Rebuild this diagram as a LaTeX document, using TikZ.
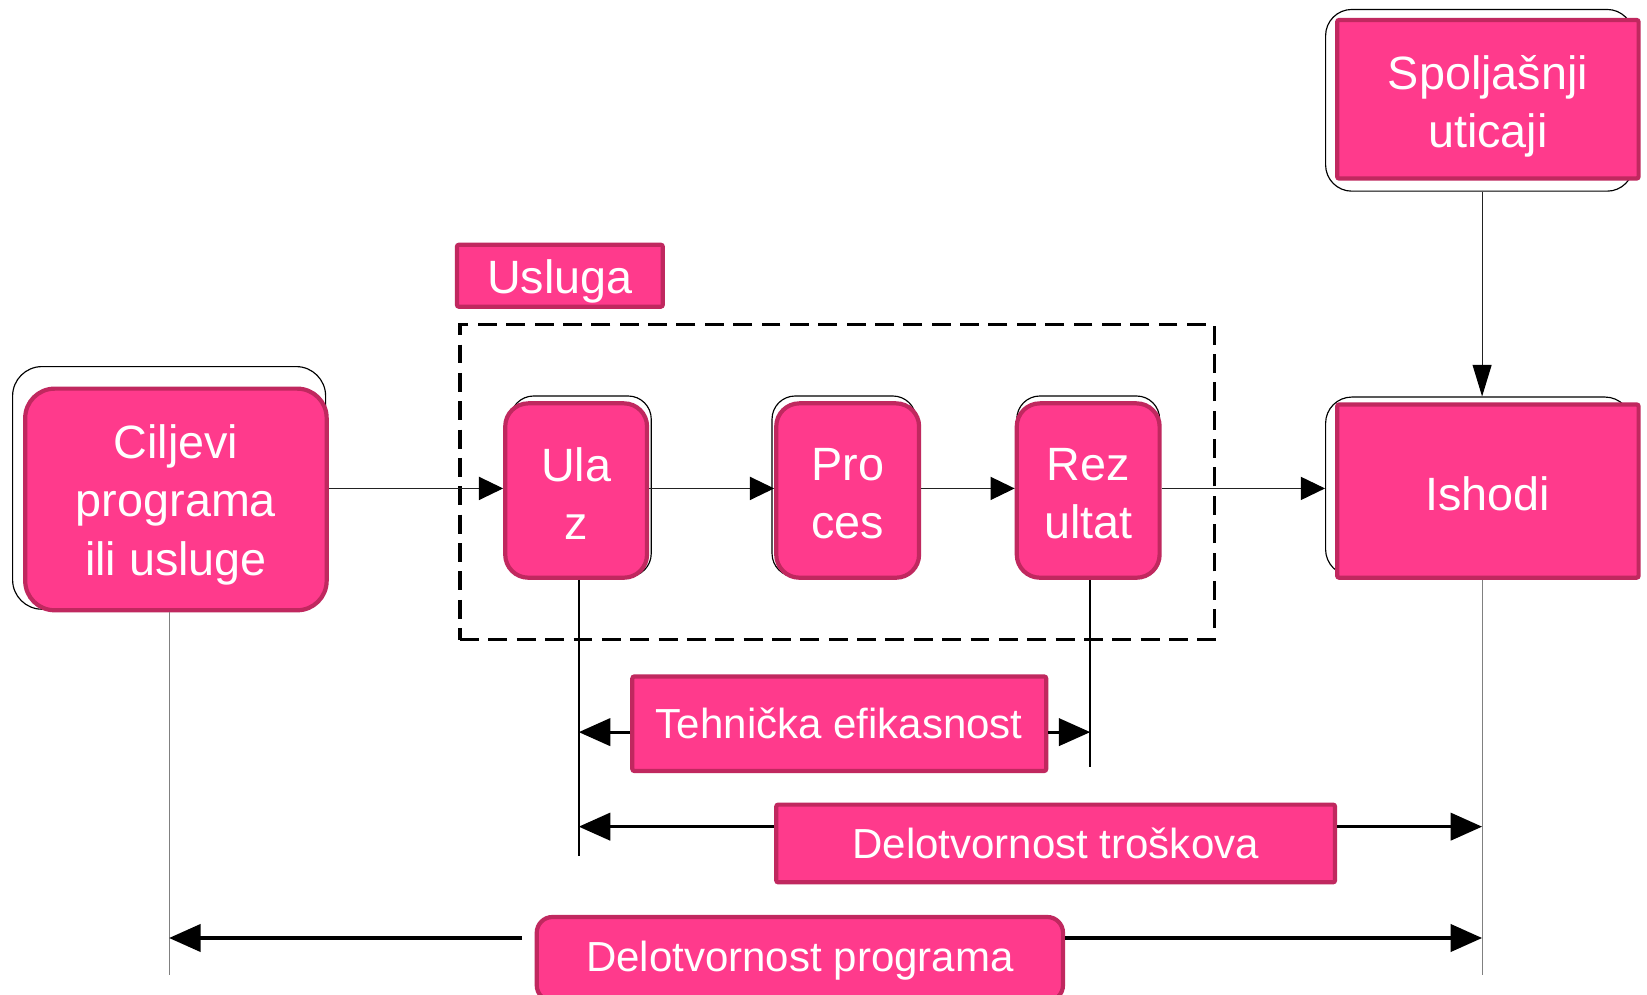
\documentclass[tikz,border=0pt]{standalone}
\usepackage{fontspec}
\setmainfont{Liberation Sans}
\usetikzlibrary{arrows.meta}
\definecolor{pinkfill}{HTML}{FF3A8C}
\definecolor{pinkdraw}{HTML}{C0285F}
\definecolor{thinline}{HTML}{222222}
\begin{document}
\begin{tikzpicture}[x=1pt,y=-1pt,
  pinkbox/.style={draw=pinkdraw, line width=4pt, fill=pinkfill, inner sep=0pt},
  bigtxt/.style={text=white, align=center, inner sep=0pt, font=\fontsize{44.5}{55.5}\selectfont},
  smalltxt/.style={text=white, align=center, inner sep=0pt, font=\fontsize{40}{48}\selectfont},
  ghost/.style={draw=black, line width=1.1pt, inner sep=0pt},
  thinarr/.style={draw=thinline, line width=1.1pt, -{Triangle[length=23pt,width=22pt,color=black]}},
  bigarr/.style={draw=black, line width=3pt, -{Triangle[length=30pt,width=26pt]}},
  thinvert/.style={draw=gray, line width=1.1pt},
  midvert/.style={draw=black, line width=2pt}]
\useasboundingbox (0,0) rectangle (1568,947);
\clip (0,0) rectangle (1568,947);
\fill[white] (0,0) rectangle (1568,947);

% outline shapes behind the boxes
\node[ghost, rounded corners=28pt, minimum width=298pt, minimum height=231pt] (ciljO) at (161,464.5) {};
\node[ghost, rounded corners=22pt, minimum width=134pt, minimum height=172pt] (ulaO) at (553,463) {};
\node[ghost, rounded corners=22pt, minimum width=137pt, minimum height=172pt] (proO) at (803.5,463) {};
\node[ghost, rounded corners=22pt, minimum width=136pt, minimum height=172pt] (rezO) at (1036,463) {};
\node[ghost, rounded corners=25pt, minimum width=291pt, minimum height=170pt] (ishO) at (1407.5,463) {};
\node[ghost, rounded corners=25pt, minimum width=293pt, minimum height=173pt] (spolO) at (1408.5,95.5) {};

% dashed service frame
\node[draw=black, line width=3pt, dash pattern=on 18pt off 9pt, inner sep=0pt,
  minimum width=718pt, minimum height=300pt] (svc) at (797,459) {};

% main boxes
\node[pinkbox, rounded corners=28pt, minimum width=287pt, minimum height=211pt] (cilj) at (167.5,475.5) {};
\node[pinkbox, rounded corners=22pt, minimum width=135pt, minimum height=166pt] (ula) at (548.5,467) {};
\node[pinkbox, rounded corners=22pt, minimum width=136pt, minimum height=166pt] (pro) at (807,467) {};
\node[pinkbox, rounded corners=22pt, minimum width=136pt, minimum height=166pt] (rez) at (1036,467) {};
\node[pinkbox, rounded corners=2pt, minimum width=287pt, minimum height=165pt] (ish) at (1416.5,467.5) {};
\node[pinkbox, rounded corners=2pt, minimum width=287pt, minimum height=151pt] (spol) at (1416.5,94.5) {};
\node[pinkbox, rounded corners=2pt, minimum width=196pt, minimum height=59pt] (usl) at (533,262.5) {};

% measure label boxes
\node[pinkbox, rounded corners=2pt, minimum width=394pt, minimum height=90pt] (teh) at (799,689) {};
\node[pinkbox, rounded corners=2pt, minimum width=532pt, minimum height=74pt] (tros) at (1005,803) {};
\node[pinkbox, rounded corners=15pt, minimum width=501pt, minimum height=80pt] (prog) at (761.5,913) {};

% texts
\node[bigtxt] (ciljT) at ([yshift=-5pt]cilj.center) {Ciljevi\\programa\\ili usluge};
\node[bigtxt] (ulaT) at ([yshift=-3pt]ula.center) {Ula\\z};
\node[bigtxt] (proT) at ([yshift=-3pt]pro.center) {Pro\\ces};
\node[bigtxt] (rezT) at ([yshift=-3pt]rez.center) {Rez\\ultat};
\node[bigtxt] (ishT) at ([yshift=-3pt]ish.center) {Ishodi};
\node[bigtxt] (spolT) at ([yshift=-7pt]spol.center) {Spoljašnji\\uticaji};
\node[bigtxt] (uslT) at ([yshift=-5pt]usl.center) {Usluga};
\node[smalltxt] (tehT) at ([yshift=0pt]teh.center) {Tehnička efikasnost};
\node[smalltxt] (trosT) at ([yshift=0pt]tros.center) {Delotvornost troškova};
\node[smalltxt] (progT) at ([yshift=-2pt]prog.center) {Delotvornost programa};

% helper coordinates
\coordinate (ya) at (0,465);
\coordinate (xi) at (1411,0);
\coordinate (cb) at (161,928);
\coordinate (ub) at (551,815);
\coordinate (rb) at (1038,730);
\coordinate (ib) at (1411,928);
\coordinate (tY) at (0,697);
\coordinate (dY) at (0,787);
\coordinate (pY) at (0,893);

% flow arrows
\draw[thinarr] (cilj.east |- ya) -- (ula.west |- ya);
\draw[thinarr] (ula.east |- ya) -- (pro.west |- ya);
\draw[thinarr] (pro.east |- ya) -- (rez.west |- ya);
\draw[thinarr] (rez.east |- ya) -- (ishO.west |- ya);
\draw[draw=thinline, line width=1.1pt, -{Triangle[length=30pt,width=18pt,color=black]}] (spolO.south -| xi) -- (ishO.north -| xi);

% vertical reference lines
\draw[thinvert] (cilj.south -| cb) -- (cb);
\draw[midvert] (ula.south -| ub) -- (ub);
\draw[midvert] (rez.south -| rb) -- (rb);
\draw[thinvert] (ish.south -| ib) -- (ib);

% measure arrows
\draw[bigarr] (teh.west |- tY) -- (ub |- tY);
\draw[bigarr] (teh.east |- tY) -- (rb |- tY);
\draw[bigarr] (tros.west |- dY) -- (ub |- dY);
\draw[bigarr] (tros.east |- dY) -- (ib |- dY);
\draw[bigarr] ([xshift=-12pt]prog.west |- pY) -- (cb |- pY);
\draw[bigarr] (prog.east |- pY) -- (ib |- pY);
\end{tikzpicture}
\end{document}
